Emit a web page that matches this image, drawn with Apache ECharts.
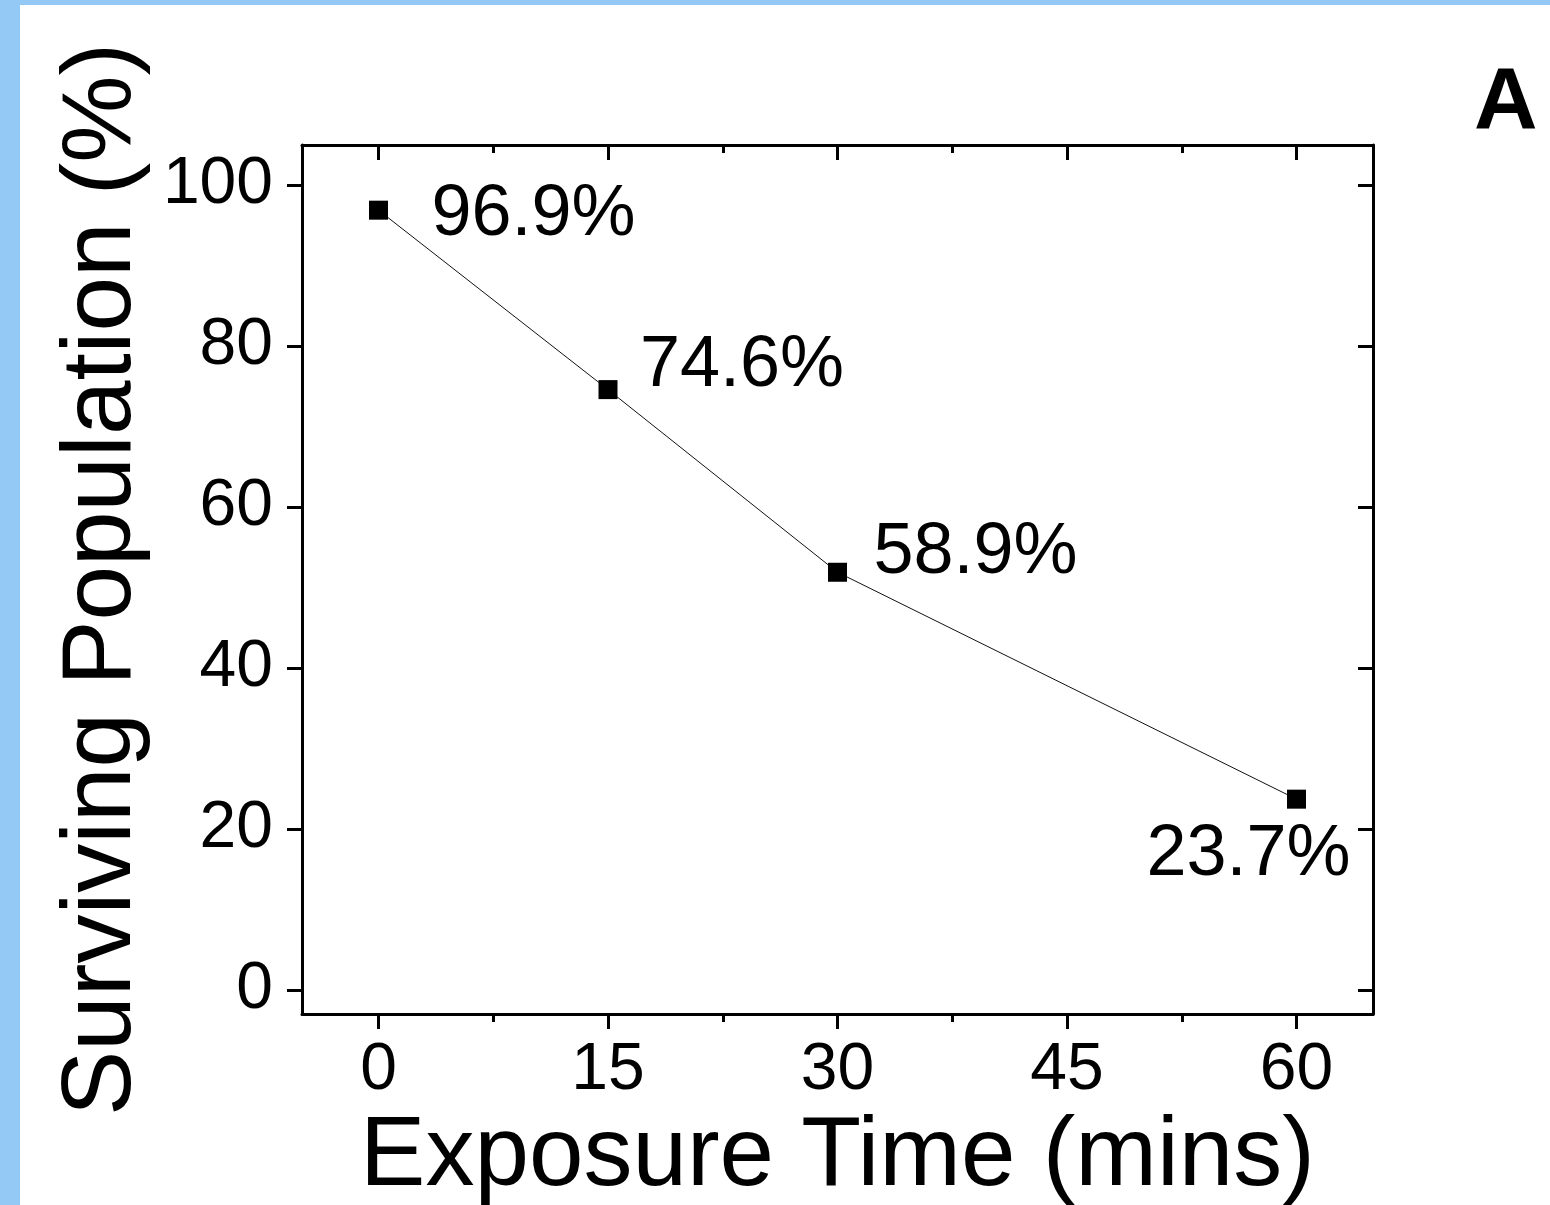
<!DOCTYPE html>
<html>
<head>
<meta charset="utf-8">
<title>Surviving Population vs Exposure Time</title>
<script src="https://cdn.jsdelivr.net/npm/echarts@6/dist/echarts.min.js"></script>
<style>
  html, body { margin: 0; padding: 0; background: #fff; }
  #chart { width: 1550px; height: 1205px; }
</style>
</head>
<body>
<div id="chart"></div>
<script>
// data
const exposureMins = [0, 15, 30, 60]
const survivingPct = [96.9, 74.6, 51.9, 23.7]
const pointLabels = ['96.9%', '74.6%', '58.9%', '23.7%']
const xMajorTicks = [0, 15, 30, 45, 60]
const xMinorTicks = [7.5, 22.5, 37.5, 52.5]
const yMajorTicks = [0, 20, 40, 60, 80, 100]

const FONT = '"Liberation Sans", Arial, sans-serif'
const BLACK = '#000'

// where each percentage sits relative to its marker
const labelOffsets = [[155, 5], [134, -23], [138, -19], [-48, 56]]

const gridBox = { left: 302, top: 145, right: 177, bottom: 191, outerBoundsMode: 'none' }

const chart = echarts.init(document.getElementById('chart'))

function frameAxis(extra) {
  return Object.assign({
    type: 'value',
    axisLine: { show: true, onZero: false, lineStyle: { color: BLACK, width: 3 } },
    axisLabel: { show: false },
    splitLine: { show: false }
  }, extra)
}

chart.setOption({
  backgroundColor: '#fff',
  animation: false,
  title: {
    text: 'A',
    left: 1474,
    top: 60,
    padding: 0,
    textStyle: { fontFamily: FONT, fontSize: 88, fontWeight: 'bold', color: BLACK }
  },
  graphic: [
    // light blue frame on the left and top
    { type: 'rect', left: 0, top: 0, shape: { width: 20, height: 1205 }, style: { fill: '#93c9f4' } },
    { type: 'rect', left: 0, top: 0, shape: { width: 1550, height: 5 }, style: { fill: '#93c9f4' } }
  ],
  grid: [
    Object.assign({}, gridBox),
    Object.assign({}, gridBox) // second grid only carries the minor ticks
  ],
  xAxis: [
    frameAxis({
      gridIndex: 0,
      position: 'bottom',
      min: -5,
      max: 65,
      name: 'Exposure Time (mins)',
      nameLocation: 'middle',
      nameGap: 82,
      nameTextStyle: { fontFamily: FONT, fontSize: 98, color: BLACK },
      axisTick: { show: true, inside: false, length: 15, customValues: xMajorTicks, lineStyle: { color: BLACK, width: 3 } },
      axisLabel: { show: true, customValues: xMajorTicks, margin: 24, fontFamily: FONT, fontSize: 66, color: BLACK }
    }),
    frameAxis({
      gridIndex: 0,
      position: 'top',
      min: -5,
      max: 65,
      axisTick: { show: true, inside: true, length: 15, customValues: xMajorTicks, lineStyle: { color: BLACK, width: 3 } }
    }),
    frameAxis({
      gridIndex: 1,
      position: 'bottom',
      min: -5,
      max: 65,
      axisLine: { show: false, onZero: false },
      axisTick: { show: true, inside: false, length: 8, customValues: xMinorTicks, lineStyle: { color: BLACK, width: 3 } }
    }),
    frameAxis({
      gridIndex: 1,
      position: 'top',
      min: -5,
      max: 65,
      axisLine: { show: false, onZero: false },
      axisTick: { show: true, inside: true, length: 8, customValues: xMinorTicks, lineStyle: { color: BLACK, width: 3 } }
    })
  ],
  yAxis: [
    frameAxis({
      gridIndex: 0,
      position: 'left',
      min: -3,
      max: 105,
      name: 'Surviving Population (%)',
      nameLocation: 'middle',
      nameRotate: 90,
      nameGap: 146,
      nameTextStyle: { fontFamily: FONT, fontSize: 98, color: BLACK },
      axisTick: { show: true, inside: false, length: 15, customValues: yMajorTicks, lineStyle: { color: BLACK, width: 3 } },
      axisLabel: { show: true, customValues: yMajorTicks, margin: 29, fontFamily: FONT, fontSize: 66, color: BLACK }
    }),
    frameAxis({
      gridIndex: 0,
      position: 'right',
      min: -3,
      max: 105,
      axisTick: { show: true, inside: true, length: 15, customValues: yMajorTicks, lineStyle: { color: BLACK, width: 3 } }
    }),
    frameAxis({
      gridIndex: 1,
      min: -3,
      max: 105,
      show: false
    })
  ],
  series: [
    {
      type: 'line',
      xAxisIndex: 0,
      yAxisIndex: 0,
      symbol: 'rect',
      symbolSize: 19,
      itemStyle: { color: BLACK },
      lineStyle: { color: '#111', width: 1 },
      data: exposureMins.map((x, i) => ({
        value: [x, survivingPct[i]],
        label: {
          show: true,
          position: 'inside',
          offset: labelOffsets[i],
          formatter: pointLabels[i],
          fontFamily: FONT,
          fontSize: 72,
          color: BLACK
        }
      }))
    }
  ]
})
</script>
</body>
</html>
